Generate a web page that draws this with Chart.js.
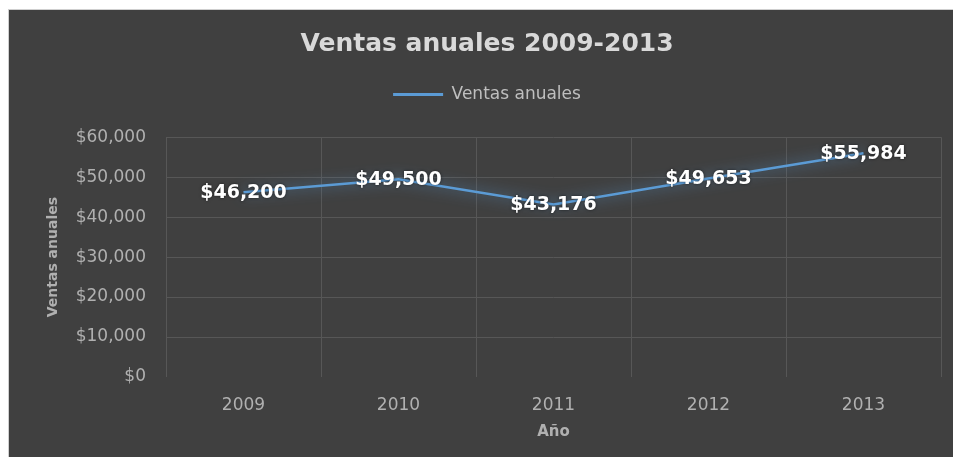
<!DOCTYPE html>
<html>
<head>
<meta charset="utf-8">
<script src="https://cdn.jsdelivr.net/npm/chart.js@4.4.1/dist/chart.umd.min.js"></script>
<style>
  html, body { margin: 0; padding: 0; background: #ffffff; }
  body { width: 953px; height: 457px; position: relative; overflow: hidden; }
  #wrap { position: absolute; left: 8px; top: 9px; width: 945px; height: 448px; background: #404040;
          border-left: 1px solid #cfcfcf; border-top: 1px solid #cfcfcf; box-sizing: border-box; }
  canvas { display: block; }
</style>
</head>
<body>
<div id="wrap"><canvas id="c" width="944" height="447"></canvas></div>
<script>
const categories = ['2009', '2010', '2011', '2012', '2013'];
const salesValues = [46200, 49500, 43176, 49653, 55984];
const seriesName = 'Ventas anuales';
const chartTitle = 'Ventas anuales 2009-2013';
const yAxisTitle = 'Ventas anuales';
const xAxisTitle = 'Año';

const FONT = "'DejaVu Sans', 'Liberation Sans', sans-serif";
const fmt = v => '$' + v.toLocaleString('en-US');

const glowPlugin = {
  id: 'glow',
  beforeDatasetDraw(chart) {
    const ctx = chart.ctx;
    ctx.save();
    ctx.shadowColor = 'rgba(91,155,213,0.9)';
    ctx.shadowBlur = 14;
  },
  afterDatasetDraw(chart) {
    chart.ctx.restore();
  }
};

const labelPlugin = {
  id: 'valueLabels',
  afterDatasetsDraw(chart) {
    const ctx = chart.ctx;
    const meta = chart.getDatasetMeta(0);
    ctx.save();
    ctx.font = 'bold 19px ' + FONT;
    ctx.textAlign = 'center';
    ctx.textBaseline = 'middle';
    ctx.fillStyle = '#ffffff';
    ctx.shadowColor = 'rgba(0,0,0,0.6)';
    ctx.shadowBlur = 3;
    meta.data.forEach((pt, i) => {
      ctx.fillText(fmt(chart.data.datasets[0].data[i]), pt.x, pt.y + 1);
    });
    ctx.restore();
  }
};

new Chart(document.getElementById('c'), {
  type: 'line',
  data: {
    labels: categories,
    datasets: [{
      label: seriesName,
      data: salesValues,
      borderColor: '#5B9BD5',
      backgroundColor: '#5B9BD5',
      borderWidth: 2.5,
      pointRadius: 0,
      tension: 0,
      fill: false
    }]
  },
  options: {
    responsive: false,
    animation: false,
    devicePixelRatio: 1,
    layout: { padding: { left: 24, right: 12, top: 0, bottom: 0 } },
    plugins: {
      title: {
        display: true,
        text: chartTitle,
        color: '#d9d9d9',
        font: { family: FONT, size: 25, weight: 'bold' },
        padding: { top: 19, bottom: 17 }
      },
      subtitle: {
        display: true,
        text: '',
        weight: 500,
        font: { size: 1 },
        padding: { top: 0, bottom: 23 }
      },
      legend: {
        display: true,
        labels: {
          color: '#bfbfbf',
          font: { family: FONT, size: 17 },
          boxWidth: 50,
          boxHeight: 3,
          padding: 10,
          generateLabels(chart) {
            const items = Chart.defaults.plugins.legend.labels.generateLabels(chart);
            items.forEach(it => { it.lineWidth = 0; it.fillStyle = '#5B9BD5'; });
            return items;
          }
        }
      },
      tooltip: { enabled: false }
    },
    scales: {
      x: {
        offset: true,
        grid: { offset: true, color: '#575757', drawTicks: false, lineWidth: 1 },
        border: { display: false },
        ticks: { color: '#b0b0b0', font: { family: FONT, size: 17 }, padding: 18 },
        title: { display: true, text: xAxisTitle, color: '#b0b0b0',
                 font: { family: FONT, size: 15, weight: 'bold' }, padding: { top: 16, bottom: 16 } },
        afterFit(scale) { scale.height = 80; }
      },
      y: {
        min: 0,
        max: 60000,
        ticks: { stepSize: 10000, color: '#b0b0b0', font: { family: FONT, size: 17 }, padding: 20,
                 callback: v => fmt(v) },
        grid: { drawTicks: false, color: ctx => (ctx.tick && ctx.tick.value === 0) ? 'rgba(0,0,0,0)' : '#575757' },
        border: { display: false },
        title: { display: true, text: yAxisTitle, color: '#b0b0b0',
                 font: { family: FONT, size: 14, weight: 'bold' }, padding: { top: 11.6, bottom: 11.6 } },
        afterFit(scale) { scale.width = 133; }
      }
    }
  },
  plugins: [glowPlugin, labelPlugin]
});
</script>
</body>
</html>
